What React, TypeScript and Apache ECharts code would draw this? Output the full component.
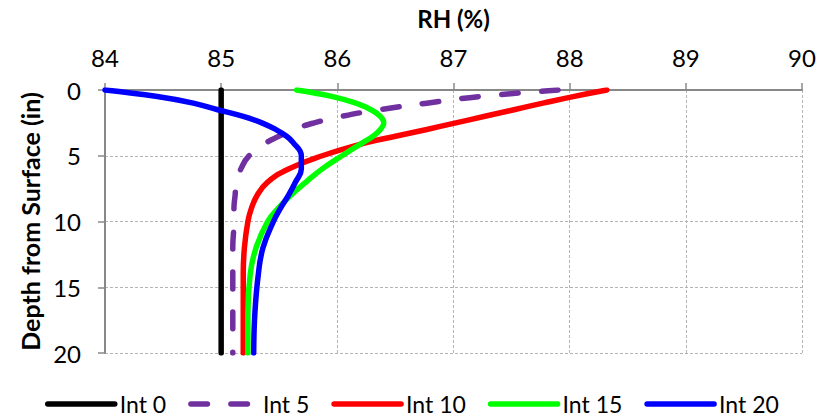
import React, { useEffect, useRef } from "react";
import * as echarts from "echarts";

// Depth below the surface (in) at which each profile is sampled
const depths = [0, 0.5, 1, 1.5, 2, 2.5, 3, 3.5, 4, 5, 6, 7, 8, 9, 10, 12, 14, 17, 20];

// Relative humidity (%) at each depth, one array per interval
const int0 = [85, 85, 85, 85, 85, 85, 85, 85, 85, 85, 85, 85, 85, 85, 85, 85, 85, 85, 85];
const int5 = [87.9, 87.22, 86.77, 86.36, 86.04, 85.8, 85.62, 85.5, 85.39, 85.24, 85.17, 85.13, 85.12, 85.11, 85.11, 85.1, 85.1, 85.1, 85.1];
const int10 = [88.32, 88.03, 87.77, 87.52, 87.27, 87.02, 86.77, 86.51, 86.25, 85.87, 85.58, 85.4, 85.31, 85.26, 85.23, 85.2, 85.19, 85.19, 85.19];
const int15 = [85.65, 85.96, 86.16, 86.29, 86.37, 86.4, 86.37, 86.31, 86.22, 86.04, 85.87, 85.73, 85.6, 85.49, 85.4, 85.3, 85.25, 85.23, 85.23];
const int20 = [84.0, 84.45, 84.76, 84.97, 85.19, 85.35, 85.47, 85.56, 85.62, 85.69, 85.69, 85.64, 85.58, 85.51, 85.45, 85.36, 85.32, 85.29, 85.28];

const seriesNames = ["Int 0", "Int 5", "Int 10", "Int 15", "Int 20"];
const seriesColors = ["#000000", "#7030A0", "#FF0000", "#00FF00", "#0000FF"];

const FONT = "Lato, 'Noto Sans', sans-serif";

export default function App() {
  const ref = useRef<HTMLDivElement>(null);

  useEffect(() => {
    if (!ref.current) return;
    const chart = echarts.init(ref.current, undefined, { renderer: "svg" });

    const profiles = [int0, int5, int10, int15, int20];

    const series = profiles.map((values, i) => ({
      name: seriesNames[i],
      type: "line",
      data: depths.map((d, k) => [values[k], d]),
      smooth: i === 0 ? false : 0.45,
      symbol: "none",
      z: i === 0 ? 2 : 3 + i,
      lineStyle: {
        color: seriesColors[i],
        width: 5.5,
        type: i === 1 ? [16.5, 23.5] : "solid",
        cap: "round",
        join: "round",
      },
      itemStyle: { color: seriesColors[i] },
    }));

    const gridLine = {
      show: true,
      lineStyle: { color: "#b4b4b4", type: [3, 2], width: 1 },
    };

    const axisName = { fontFamily: FONT, fontSize: 24, fontWeight: "bold", color: "#000" };
    const axisLabel = { fontFamily: FONT, fontSize: 24, color: "#000" };

    chart.setOption({
      animation: false,
      textStyle: { fontFamily: FONT, color: "#000" },
      grid: { left: 105, right: 29, top: 90, bottom: 66, outerBoundsMode: "none", containLabel: false },
      xAxis: {
        type: "value",
        position: "top",
        min: 84,
        max: 90,
        interval: 1,
        name: "RH (%)",
        nameLocation: "middle",
        nameGap: 60,
        nameTextStyle: axisName,
        axisLine: { show: true, lineStyle: { color: "#888888", width: 2 } },
        axisTick: { show: true, length: 7, lineStyle: { color: "#888888", width: 1.5 } },
        axisLabel: { ...axisLabel, margin: 21 },
        splitLine: gridLine,
      },
      yAxis: {
        type: "value",
        inverse: true,
        min: 0,
        max: 20,
        interval: 5,
        name: "Depth from Surface (in)",
        nameLocation: "middle",
        nameGap: 59,
        nameTextStyle: { ...axisName, fontSize: 25 },
        axisLine: { show: true, lineStyle: { color: "#888888", width: 2 } },
        axisTick: { show: true, length: 7, lineStyle: { color: "#888888", width: 1.5 } },
        axisLabel: { ...axisLabel, margin: 24 },
        splitLine: gridLine,
      },
      legend: {
        top: 392,
        left: 45,
        padding: 0,
        itemWidth: 67,
        itemHeight: 14,
        itemGap: 22,
        data: seriesNames,
        itemStyle: { opacity: 0 },
        lineStyle: { width: 5.5, cap: "round" },
        textStyle: { fontFamily: FONT, fontSize: 23, lineHeight: 24, color: "#000" },
      },
      series,
    });

    return () => chart.dispose();
  }, []);

  return <div ref={ref} style={{ width: 831, height: 419, position: "absolute", left: 0, top: 0 }} />;
}
